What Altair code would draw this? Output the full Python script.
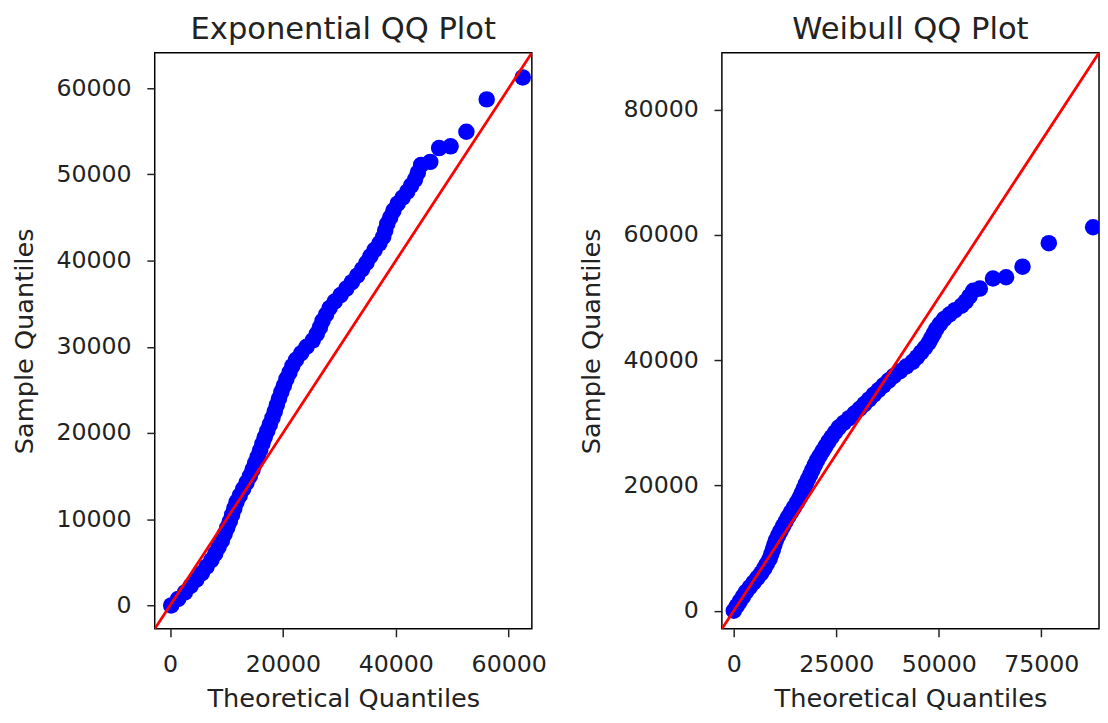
import altair as alt
import pandas as pd

# Sorted sample values (shared by both QQ panels)
sample_quantiles = [
    0, 750, 1500, 2250, 3000, 3750, 4500, 5250, 6000, 6750, 7500, 8250, 9000, 9750,
    10500, 11250, 12000, 12750, 13500, 14250, 15000, 15750, 16500, 17250, 18000,
    18750, 19500, 20250, 21000, 21750, 22500, 23250, 24000, 24750, 25500, 26250,
    27000, 27750, 28500, 29250, 30000, 30750, 31500, 32250, 33000, 33750, 34500,
    35250, 36000, 36750, 37500, 38250, 39000, 39750, 40500, 41250, 42000, 42750,
    43500, 44250, 45000, 45800, 46600, 47300, 48000, 48700, 49400, 50200, 51100,
    51450, 53050, 53250, 54950, 58700, 61250,
]

# Theoretical quantiles, exponential panel
exp_theoretical = [
    200, 1440, 2620, 3640, 4660, 5650, 6480, 7320, 8000, 8590, 9180, 9650, 10120,
    10590, 10990, 11380, 11780, 12350, 12950, 13550, 14140, 14620, 15070, 15520,
    15950, 16360, 16770, 17230, 17680, 18140, 18550, 18920, 19300, 19710, 20160,
    20610, 21140, 21660, 22320, 23230, 24190, 25290, 26000, 26550, 27010, 27640,
    28270, 29170, 30220, 31230, 32220, 33150, 34030, 34810, 35490, 36250, 37100,
    37760, 38120, 38480, 39000, 39580, 40320, 41190, 42020, 42700, 43390, 43900,
    44480, 46100, 47670, 49710, 52500, 56100, 62490,
]

# Theoretical quantiles, Weibull panel
weibull_theoretical = [
    0, 745, 1490, 2235, 2980, 3900, 4830, 5770, 6700, 7430, 8080, 8730, 9140, 9520,
    9900, 10280, 10810, 11420, 12030, 12640, 13290, 13990, 14690, 15390, 16040,
    16560, 17070, 17580, 18100, 18650, 19200, 19750, 20300, 20970, 21680, 22380,
    23090, 23880, 24730, 25590, 26810, 28130, 29440, 30710, 31860, 33000, 34140,
    35330, 36540, 37760, 39050, 40570, 42090, 43610, 44720, 45680, 46640, 47520,
    48150, 48780, 49420, 50310, 51330, 52610, 53960, 55540, 56580, 57490, 58420,
    60030, 63230, 66430, 70440, 76850, 87650,
]

exp_domain = [-2720, 64100]
weibull_domain = [-2900, 89100]
exp_x_ticks = [0, 20000, 40000, 60000]
exp_y_ticks = [0, 10000, 20000, 30000, 40000, 50000, 60000]
weibull_x_ticks = [0, 25000, 50000, 75000]
weibull_y_ticks = [0, 20000, 40000, 60000, 80000]

FONT = "DejaVu Sans"
TEXT = "#222222"


def panel(theo, domain, xt, yt, title):
    df = pd.DataFrame({"theoretical": theo, "sample": sample_quantiles})
    line_df = pd.DataFrame({"v": domain})
    xs = alt.Scale(domain=domain, nice=False, zero=False)
    ys = alt.Scale(domain=domain, nice=False, zero=False)
    xa = alt.Axis(values=xt, format="d", title="Theoretical Quantiles")
    ya = alt.Axis(values=yt, format="d", title="Sample Quantiles")
    pts = alt.Chart(df).mark_circle(color="#0000ff", opacity=1, size=280, clip=True).encode(
        x=alt.X("theoretical:Q", scale=xs, axis=xa),
        y=alt.Y("sample:Q", scale=ys, axis=ya),
    )
    line = alt.Chart(line_df).mark_line(color="#ff0000", strokeWidth=2.8, clip=True).encode(
        x=alt.X("v:Q", scale=xs, axis=xa),
        y=alt.Y("v:Q", scale=ys, axis=ya),
    )
    return alt.layer(pts, line).properties(
        width=383,
        height=585,
        title=alt.TitleParams(
            text=title, fontSize=31, font=FONT, fontWeight="normal", color=TEXT,
            anchor="middle", frame="group", offset=-17, baseline="alphabetic",
        ),
    )


left = panel(exp_theoretical, exp_domain, exp_x_ticks, exp_y_ticks, "Exponential QQ Plot")
right = panel(weibull_theoretical, weibull_domain, weibull_x_ticks, weibull_y_ticks, "Weibull QQ Plot")

chart = (
    alt.hconcat(left, right, spacing=30)
    .resolve_scale(x="independent", y="independent")
    .properties(padding={"left": 2, "top": 0, "right": 0, "bottom": 0}, background="white")
    .configure_view(stroke="black", strokeWidth=1.5)
    .configure_axis(
        domain=False, grid=False, labelFont=FONT, titleFont=FONT,
        labelFontSize=24, titleFontSize=26, labelColor=TEXT, titleColor=TEXT,
        tickColor=TEXT, tickSize=8, tickWidth=1.5, labelPadding=16, titlePadding=19,
        labelFlush=False, labelOverlap=False, titleFontWeight="normal",
    )
    .configure_axisX(titlePadding=10)
)

chart.save("out.html", embed_options={"renderer": "svg", "actions": False})
